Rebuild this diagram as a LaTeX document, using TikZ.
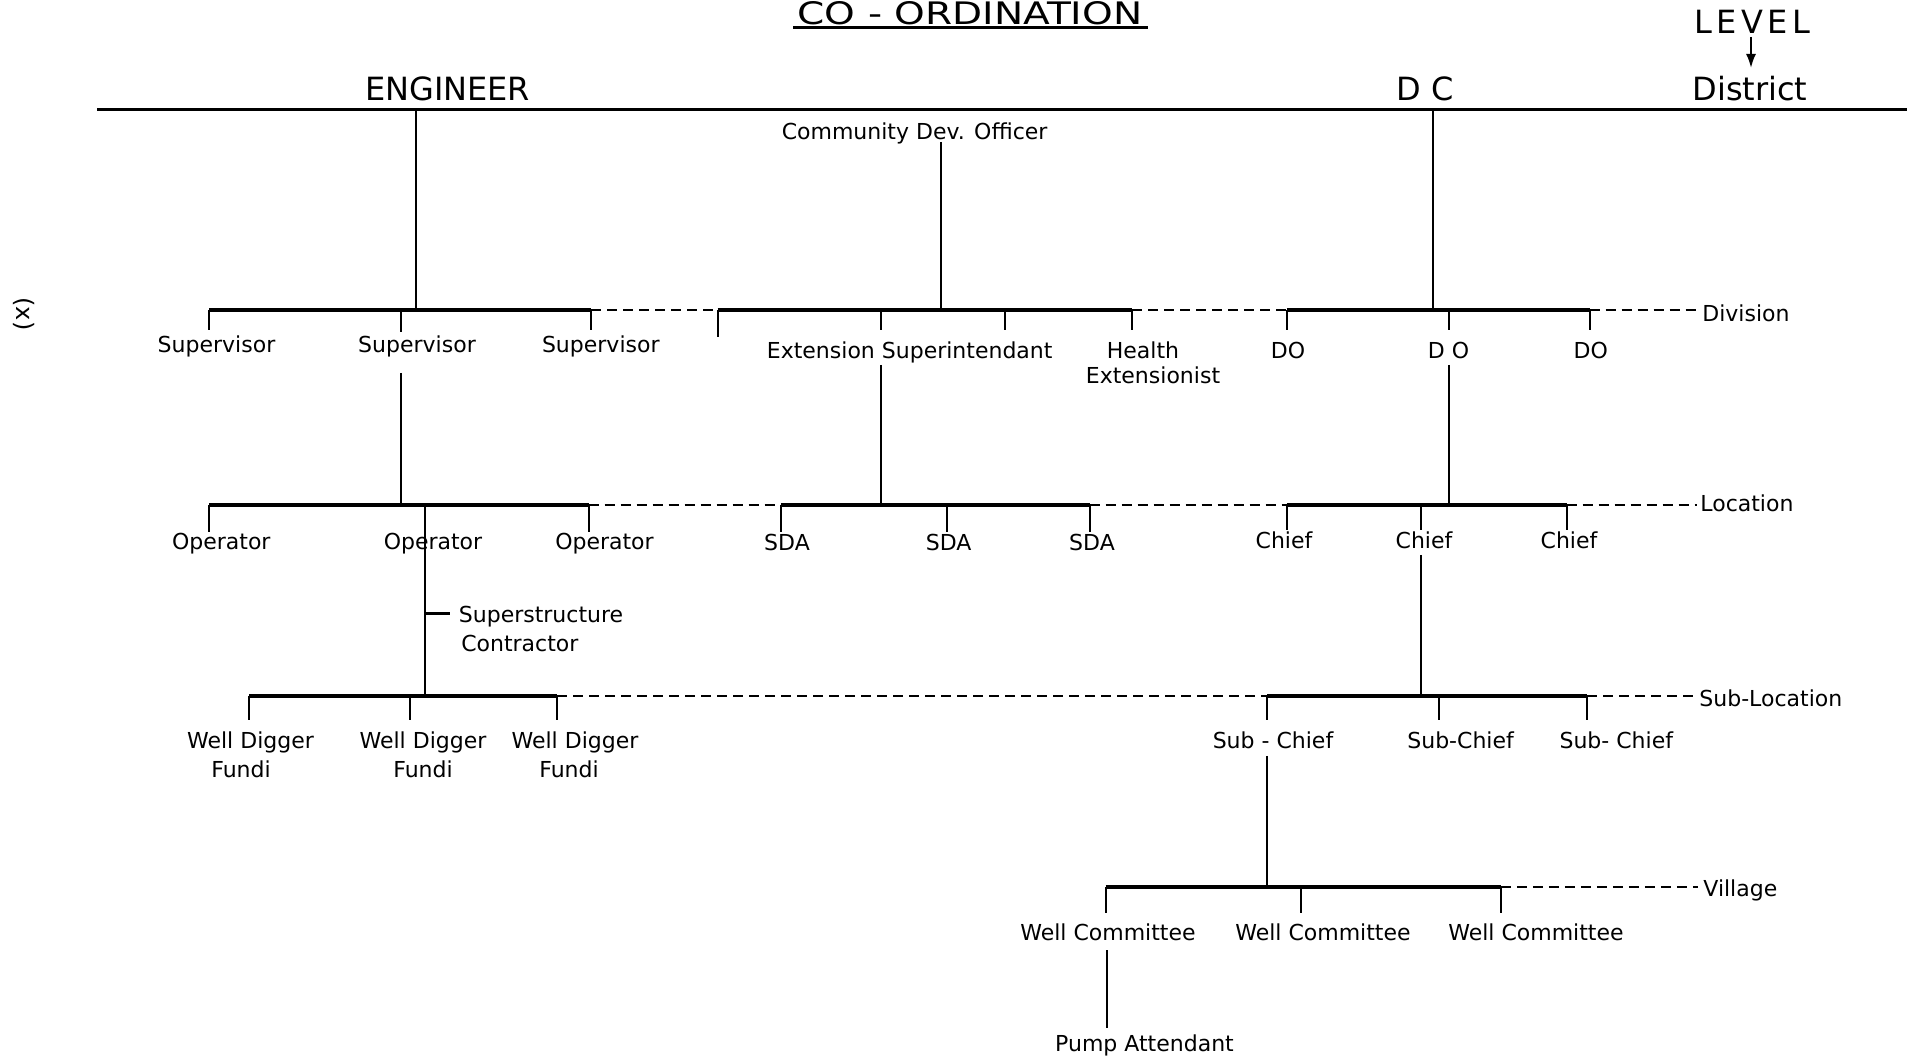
\documentclass[tikz,border=0pt]{standalone}
\usepackage{fontspec}
\setmainfont{DejaVu Sans}
\newfontfamily\levfont[LetterSpace=14]{DejaVu Sans}
\usetikzlibrary{arrows.meta}
\begin{document}
\begin{tikzpicture}[x=0.5pt,y=-0.5pt,
  lvl/.style={line width=1.6pt},
  conn/.style={line width=1pt},
  dsh/.style={line width=1pt, dash pattern=on 5pt off 3pt},
  lbl/.style={font=\fontsize{11}{13}\selectfont, inner sep=0pt, anchor=base},
  lbll/.style={font=\fontsize{11}{13}\selectfont, inner sep=0pt, anchor=base west},
  big/.style={font=\fontsize{16}{18}\selectfont, inner sep=0pt, anchor=base},
  levlbl/.style={font=\fontsize{11}{13}\selectfont, inner sep=0pt, anchor=base west}]
\useasboundingbox (0,0) rectangle (1907,1058);
% ---------- title and header ----------
\node[font=\fontsize{15.5}{17}\selectfont, inner sep=0pt, anchor=base, xscale=1.26] (title) at (970,25) {CO - ORDINATION};
\coordinate (ulA) at (793,28); \coordinate (ulB) at (1148,28);
\draw[line width=1.5pt] (ulA) -- (ulB);
\node[big, font=\fontsize{16}{18}\levfont] (level) at (1752,34) {LEVEL};
\node[big] (dist) at (1750,101) {District};
\coordinate (lvA) at (1751,37); \coordinate (lvB) at (1751,68);
\draw[conn,-{Latex[length=7pt,width=5pt]}] (lvA) -- (lvB);
\node[big] (eng) at (447.6,101) {ENGINEER};
\node[big] (dc) at (1425,101) {D C};
\node[font=\fontsize{12}{14}\selectfont, inner sep=0pt, rotate=-90] (xx) at (24,314) {(x)};
% top line
\coordinate (topL) at (97,109.5); \coordinate (topR) at (1907,109.5);
\draw[line width=1.8pt] (topL) -- (topR);
% ---------- labels ----------
\node[lbl] (cdo) at (914.6,140) {Community Dev. Officer};
\node[lbl] (sup1) at (216.5,353) {Supervisor};
\node[lbl] (sup2) at (417,353) {Supervisor};
\node[lbl] (sup3) at (600.8,353) {Supervisor};
\node[lbl] (ext) at (909.7,359) {Extension Superintendant};
\node[lbl] (hea) at (1143,359) {Health};
\node[lbl] (hex) at (1153,384) {Extensionist};
\node[lbl] (do1) at (1288,359) {DO};
\node[lbl] (do2) at (1448.5,359) {D O};
\node[lbl] (do3) at (1590.8,359) {DO};
\node[lbl] (op1) at (221.3,550) {Operator};
\node[lbl] (op2) at (433,550) {Operator};
\node[lbl] (op3) at (604.5,550) {Operator};
\node[lbl] (sda1) at (787,551) {SDA};
\node[lbl] (sda2) at (948.6,551) {SDA};
\node[lbl] (sda3) at (1092,551) {SDA};
\node[lbl] (ch1) at (1284,549) {Chief};
\node[lbl] (ch2) at (1424,549) {Chief};
\node[lbl] (ch3) at (1569,549) {Chief};
\node[lbll] (sup) at (458.5,623) {Superstructure};
\node[lbll] (con) at (460.9,652) {Contractor};
\node[lbl] (wd1) at (250.5,748) {Well Digger};
\node[lbl] (wd2) at (423,748) {Well Digger};
\node[lbl] (wd3) at (575,748) {Well Digger};
\node[lbl] (fu1) at (241,777) {Fundi};
\node[lbl] (fu2) at (423,777) {Fundi};
\node[lbl] (fu3) at (569,777) {Fundi};
\node[lbl] (sc1) at (1273,748) {Sub - Chief};
\node[lbl] (sc2) at (1460.6,748) {Sub-Chief};
\node[lbl] (sc3) at (1616.3,748) {Sub- Chief};
\node[lbl] (wc1) at (1108,940) {Well Committee};
\node[lbl] (wc2) at (1323,940) {Well Committee};
\node[lbl] (wc3) at (1536,940) {Well Committee};
\node[lbl] (pump) at (1144.5,1051) {Pump Attendant};
\node[levlbl] (ldiv) at (1702,322) {Division};
\node[levlbl] (lloc) at (1700,512) {Location};
\node[levlbl] (lsub) at (1699,707) {Sub-Location};
\node[levlbl] (lvil) at (1703,896) {Village};
% ---------- District -> Division ----------
\coordinate (e0) at (416,109.5); \coordinate (e1) at (416,310);
\coordinate (c0) at (941,142);   \coordinate (c1) at (941,310);
\coordinate (d0) at (1433,109.5);\coordinate (d1) at (1433,310);
\draw[conn] (e0) -- (e1);
\draw[conn] (c0) -- (c1);
\draw[conn] (d0) -- (d1);
% Division level
\coordinate (dA) at (209,310);  \coordinate (dAt) at (209,330);
\coordinate (dB) at (401,310);  \coordinate (dBt) at (401,332);
\coordinate (dC) at (591,310);  \coordinate (dCt) at (591,330);
\coordinate (dD) at (717.6,310);\coordinate (dDt) at (717.6,337);
\coordinate (dE) at (880.5,310);\coordinate (dEt) at (880.5,330);
\coordinate (dF) at (1004.6,310);\coordinate (dFt) at (1004.6,330);
\coordinate (dG) at (1132,310); \coordinate (dGt) at (1132,330);
\coordinate (dH) at (1286.7,310);\coordinate (dHt) at (1286.7,330);
\coordinate (dI) at (1448.5,310);\coordinate (dIt) at (1448.5,330);
\coordinate (dJ) at (1589.6,310);\coordinate (dJt) at (1589.6,330);
\coordinate (dK) at (1699,310);
\draw[lvl] (dA) -- (dC); \draw[lvl] (dD) -- (dG); \draw[lvl] (dH) -- (dJ);
\draw[dsh] (dC) -- (dD); \draw[dsh] (dG) -- (dH); \draw[dsh] (dJ) -- (dK);
\foreach \p in {A,B,C,D,E,F,G,H,I,J} {\draw[conn] (d\p) -- (d\p t);}
% ---------- Division -> Location ----------
\coordinate (s0) at (401,373);   \coordinate (s1) at (401,505);
\coordinate (x0) at (880.5,365); \coordinate (x1) at (880.5,505);
\coordinate (o0) at (1448.5,365);\coordinate (o1) at (1448.5,505);
\draw[conn] (s0) -- (s1); \draw[conn] (x0) -- (x1); \draw[conn] (o0) -- (o1);
\coordinate (lA) at (209,505);   \coordinate (lAt) at (209,532);
\coordinate (lB) at (424.5,505);
\coordinate (lC) at (588.6,505); \coordinate (lCt) at (588.6,532);
\coordinate (lD) at (780.8,505); \coordinate (lDt) at (780.8,532);
\coordinate (lE) at (947.4,505); \coordinate (lEt) at (947.4,532);
\coordinate (lF) at (1089.7,505);\coordinate (lFt) at (1089.7,532);
\coordinate (lG) at (1286.7,505);\coordinate (lGt) at (1286.7,530);
\coordinate (lH) at (1420.5,505);\coordinate (lHt) at (1420.5,530);
\coordinate (lI) at (1566.5,505);\coordinate (lIt) at (1566.5,530);
\coordinate (lJ) at (1697,505);
\draw[lvl] (lA) -- (lC); \draw[lvl] (lD) -- (lF); \draw[lvl] (lG) -- (lI);
\draw[dsh] (lC) -- (lD); \draw[dsh] (lF) -- (lG); \draw[dsh] (lI) -- (lJ);
\foreach \p in {A,C,D,E,F,G,H,I} {\draw[conn] (l\p) -- (l\p t);}
% ---------- Location -> Sub-Location ----------
\coordinate (opv) at (424.5,696);
\draw[conn] (lB) -- (opv);
\coordinate (ss0) at (424.5,614); \coordinate (ss1) at (450,614);
\draw[line width=1.5pt] (ss0) -- (ss1);
\coordinate (cv0) at (1420.5,555); \coordinate (cv1) at (1420.5,696);
\draw[conn] (cv0) -- (cv1);
\coordinate (uA) at (249.3,696); \coordinate (uAt) at (249.3,720);
\coordinate (uB) at (409.9,696); \coordinate (uBt) at (409.9,720);
\coordinate (uC) at (557,696);   \coordinate (uCt) at (557,720);
\coordinate (uD) at (1267,696);  \coordinate (uDt) at (1267,720);
\coordinate (uE) at (1438.8,696);\coordinate (uEt) at (1438.8,720);
\coordinate (uF) at (1587.1,696);\coordinate (uFt) at (1587.1,720);
\coordinate (uG) at (1695,696);
\draw[lvl] (uA) -- (uC); \draw[lvl] (uD) -- (uF);
\draw[dsh] (uC) -- (uD); \draw[dsh] (uF) -- (uG);
\foreach \p in {A,B,C,D,E,F} {\draw[conn] (u\p) -- (u\p t);}
% ---------- Sub-Location -> Village ----------
\coordinate (sv0) at (1267,756); \coordinate (sv1) at (1267,887);
\draw[conn] (sv0) -- (sv1);
\coordinate (vA) at (1105.5,887);\coordinate (vAt) at (1105.5,913);
\coordinate (vB) at (1301.3,887);\coordinate (vBt) at (1301.3,913);
\coordinate (vC) at (1500.8,887);\coordinate (vCt) at (1500.8,913);
\coordinate (vD) at (1698,887);
\draw[lvl] (vA) -- (vC); \draw[dsh] (vC) -- (vD);
\foreach \p in {A,B,C} {\draw[conn] (v\p) -- (v\p t);}
\coordinate (pv0) at (1106.7,950); \coordinate (pv1) at (1106.7,1028);
\draw[conn] (pv0) -- (pv1);
\end{tikzpicture}
\end{document}
